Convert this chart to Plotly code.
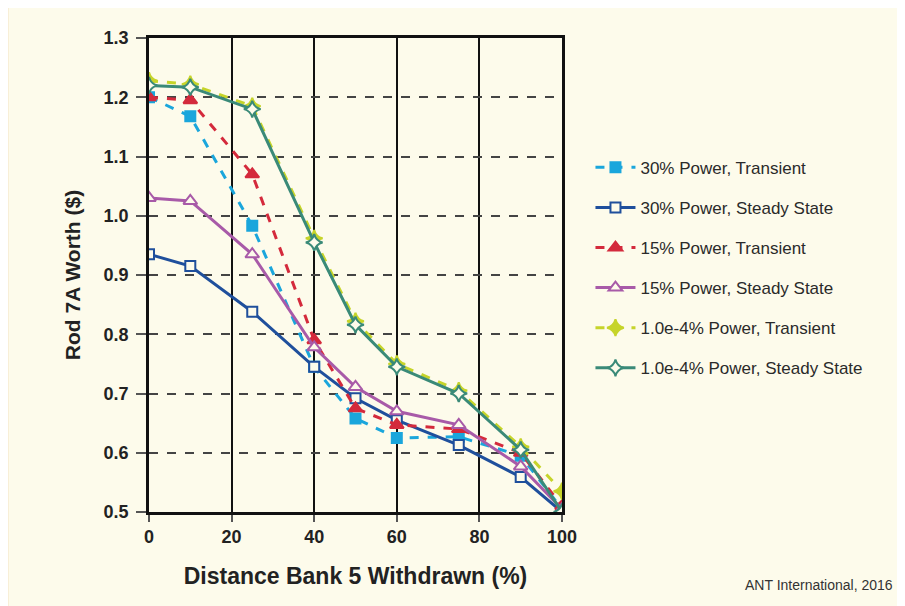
import plotly.graph_objects as go

x_pct = [0, 10, 25, 40, 50, 60, 75, 90, 100]

p30_transient = [1.200, 1.168, 0.983, 0.745, 0.658, 0.625, 0.627, 0.595, 0.505]
p30_steady    = [0.935, 0.915, 0.838, 0.745, 0.692, 0.655, 0.613, 0.559, 0.500]
p15_transient = [1.200, 1.195, 1.070, 0.790, 0.675, 0.647, 0.640, 0.600, 0.510]
p15_steady    = [1.030, 1.025, 0.935, 0.778, 0.711, 0.670, 0.647, 0.577, 0.505]
p1e4_transient = [1.228, 1.222, 1.185, 0.962, 0.822, 0.750, 0.705, 0.610, 0.535]
p1e4_steady    = [1.220, 1.217, 1.180, 0.955, 0.816, 0.745, 0.700, 0.605, 0.500]

y_ticks = [0.5, 0.6, 0.7, 0.8, 0.9, 1.0, 1.1, 1.2, 1.3]
x_ticks = [0, 20, 40, 60, 80, 100]

CREAM = "#fdfbeb"
series = [
    ("30% Power, Transient", p30_transient, "#1aa6dc", "dash", "square", True, 10),
    ("30% Power, Steady State", p30_steady, "#1f4f9c", "solid", "square", False, 10),
    ("15% Power, Transient", p15_transient, "#d42a3c", "dash", "triangle-up", True, 12),
    ("15% Power, Steady State", p15_steady, "#a85aa8", "solid", "triangle-up", False, 12),
    ("1.0e-4% Power, Transient", p1e4_transient, "#c6d42a", "dash", "star-diamond", True, 12),
    ("1.0e-4% Power, Steady State", p1e4_steady, "#3a8a78", "solid", "star-diamond", False, 12),
]

fig = go.Figure()
for i, (name, vals, col, dash, sym, filled, msize) in enumerate(series):
    fig.add_trace(go.Scatter(
        x=x_pct, y=vals, name=name, mode="lines+markers",
        legendgroup=f"g{i}",
        line=dict(color=col, width=3, dash=dash),
        marker=dict(symbol=sym, size=msize, color=col if filled else CREAM,
                    line=dict(color=col, width=2)),
    ))

# page offset of the plot div in the browser
OFF = 8
# plot-area geometry in screen pixels (reference)
L, R, T, B = 149, 562.5, 38.3, 512
W, H = R - L, B - T
def px(xp):
    return (xp - L) / W
def py(yp):
    return (B - yp) / H

fig.add_shape(type="rect", xref="paper", yref="paper",
              x0=px(7), x1=px(899), y0=py(640), y1=py(7),
              line=dict(color="#e2b577", width=2), fillcolor=CREAM, layer="below")

fig.add_annotation(text="ANT International, 2016", xref="paper", yref="paper",
                   x=px(896), y=py(585), xanchor="right", yanchor="middle",
                   showarrow=False, font=dict(size=14, color="#333333",
                                              family="Liberation Sans, Arial"))

FAM = "Liberation Sans, Arial"
fig.update_layout(
    width=905, height=606,
    margin=dict(l=L - OFF, r=905 - (R - OFF), t=T - OFF, b=606 - (B - OFF)),
    paper_bgcolor="white", plot_bgcolor="rgba(0,0,0,0)",
    font=dict(family=FAM, color="#222222"),
    showlegend=True,
    legend=dict(x=px(591), y=py(150), xanchor="left", yanchor="top",
                bgcolor="rgba(0,0,0,0)", tracegroupgap=15, itemwidth=40,
                font=dict(size=17, color="#2a2a2a", family=FAM)),
    xaxis=dict(range=[0, 100], tickvals=x_ticks, ticktext=[str(v) for v in x_ticks],
               showline=True, mirror=True, linecolor="#111111", linewidth=2.5,
               showgrid=True, gridcolor="#111111", gridwidth=1.5, zeroline=False,
               ticks="outside", ticklen=7, tickwidth=1.5, tickcolor="#555555",
               tickfont=dict(family=FAM, size=18, color="#222222", weight="bold"),
               title=dict(text="<b>Distance Bank 5 Withdrawn (%)</b>",
                          font=dict(size=23, family=FAM, color="#222222"), standoff=22)),
    yaxis=dict(range=[0.5, 1.3], tickvals=y_ticks, tickformat=".1f",
               showline=True, mirror=True, linecolor="#111111", linewidth=2.5,
               showgrid=True, gridcolor="#444444", gridwidth=2, griddash="dash", zeroline=False,
               ticks="outside", ticklen=10, tickwidth=1.5, tickcolor="#555555",
               ticklabelstandoff=4,
               tickfont=dict(family=FAM, size=18, color="#222222", weight="bold"),
               title=dict(text="<b>Rod 7A Worth ($)</b>",
                          font=dict(size=21, family=FAM, color="#222222"), standoff=18)),
)

fig.write_html("out.html")
